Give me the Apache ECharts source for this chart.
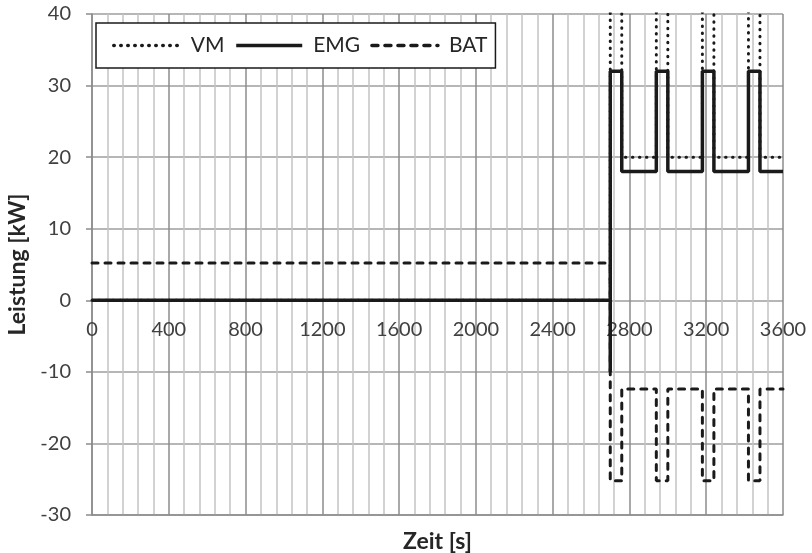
<!DOCTYPE html>
<html>
<head>
<meta charset="utf-8">
<script src="https://cdn.jsdelivr.net/npm/echarts@6/dist/echarts.min.js"></script>
<style>
  html, body { margin: 0; padding: 0; background: #fff; }
  #chart { width: 812px; height: 553px; }
</style>
</head>
<body>
<div id="chart"></div>
<script>
  // Zeitpunkte [s] und Leistungen [kW]
  var vmTime   = [0, 2700, 2700, 2760, 2760, 2940, 2940, 3000, 3000, 3180, 3180, 3240, 3240, 3420, 3420, 3480, 3480, 3600]
  var vmPower  = [0, 0, 50, 50, 20, 20, 50, 50, 20, 20, 50, 50, 20, 20, 50, 50, 20, 20]

  var emgTime  = [0, 2700, 2700, 2700, 2760, 2760, 2940, 2940, 3000, 3000, 3180, 3180, 3240, 3240, 3420, 3420, 3480, 3480, 3600]
  var emgPower = [0, 0, -10, 32, 32, 18, 18, 32, 32, 18, 18, 32, 32, 18, 18, 32, 32, 18, 18]

  var batTime  = [0, 2700, 2700, 2760, 2760, 2940, 2940, 3000, 3000, 3180, 3180, 3240, 3240, 3420, 3420, 3480, 3480, 3600]
  var batPower = [5.2, 5.2, -25.2, -25.2, -12.4, -12.4, -25.2, -25.2, -12.4, -12.4, -25.2, -25.2, -12.4, -12.4, -25.2, -25.2, -12.4, -12.4]

  var seriesNames = ['VM', 'EMG', 'BAT']

  function pairs(t, p) {
    return t.map(function (x, i) { return [x, p[i]] })
  }

  var font = 'Lato, "Open Sans", sans-serif'
  var plainNum = function (v) { return String(v) }
  var chart = echarts.init(document.getElementById('chart'))
  var option = {
    animation: false,
    textStyle: { fontFamily: font },
    grid: { left: 92, right: 29, top: 14, bottom: 38, containLabel: false, outerBoundsMode: 'none' },
    legend: {
      data: seriesNames,
      left: 96,
      top: 23,
      orient: 'horizontal',
      padding: [12, 8, 12, 16],
      itemGap: 10,
      itemWidth: 66,
      itemHeight: 14,
      borderColor: '#1a1a1a',
      borderWidth: 1.5,
      backgroundColor: '#fff',
      itemStyle: { opacity: 0 },
      lineStyle: { width: 3.5 },
      textStyle: { fontFamily: font, fontSize: 21, color: '#262626', padding: [0, 0, 0, 6], lineHeight: 21 }
    },
    xAxis: [
      {
        // Gitter und Achsentitel
        type: 'value',
        position: 'bottom',
        min: 0,
        max: 3600,
        interval: 400,
        name: 'Zeit [s]',
        nameLocation: 'middle',
        nameGap: 15,
        nameTextStyle: { fontFamily: font, fontSize: 23, fontWeight: 'bold', color: '#262626' },
        axisLine: { onZero: false, lineStyle: { color: '#8c8c8c', width: 1.5 } },
        axisTick: { show: false },
        axisLabel: { show: false },
        splitLine: { show: true, lineStyle: { color: '#8c8c8c', width: 1.5 } },
        minorTick: { show: false, splitNumber: 5 },
        minorSplitLine: { show: true, lineStyle: { color: '#c4c4c4', width: 1.5 } }
      },
      {
        // Beschriftung an der Nulllinie
        type: 'value',
        position: 'bottom',
        offset: -214,
        min: 0,
        max: 3600,
        interval: 400,
        axisLine: { show: false, onZero: false },
        axisTick: { show: false },
        axisLabel: { margin: 19, fontSize: 20, color: '#404040', formatter: plainNum },
        splitLine: { show: false }
      }
    ],
    yAxis: {
      type: 'value',
      min: -30,
      max: 40,
      interval: 10,
      name: 'Leistung [kW]',
      nameLocation: 'middle',
      nameGap: 60,
      nameTextStyle: { fontFamily: font, fontSize: 23, fontWeight: 'bold', color: '#262626' },
      axisLine: { show: true, onZero: false, lineStyle: { color: '#8c8c8c', width: 1.5 } },
      axisTick: { show: true, inside: false, length: 6, lineStyle: { color: '#8c8c8c', width: 1.5 } },
      axisLabel: { margin: 21, fontSize: 20, color: '#404040', formatter: plainNum },
      splitLine: { show: true, lineStyle: { color: '#9e9e9e', width: 1.5 } }
    },
    series: [
      {
        name: 'VM',
        type: 'line',
        xAxisIndex: 0,
        symbol: 'none',
        z: 3,
        clip: true,
        data: pairs(vmTime, vmPower),
        lineStyle: { color: '#1a1a1a', width: 3, type: [0.5, 6.5], cap: 'round' },
        itemStyle: { color: '#1a1a1a' }
      },
      {
        name: 'EMG',
        type: 'line',
        xAxisIndex: 0,
        symbol: 'none',
        z: 5,
        clip: true,
        data: pairs(emgTime, emgPower),
        lineStyle: { color: '#1a1a1a', width: 3.5, type: 'solid' },
        itemStyle: { color: '#1a1a1a' }
      },
      {
        name: 'BAT',
        type: 'line',
        xAxisIndex: 0,
        symbol: 'none',
        z: 4,
        clip: true,
        data: pairs(batTime, batPower),
        lineStyle: { color: '#1a1a1a', width: 3, type: [6, 7], cap: 'round' },
        itemStyle: { color: '#1a1a1a' }
      }
    ]
  }
  chart.setOption(option)
</script>
</body>
</html>
